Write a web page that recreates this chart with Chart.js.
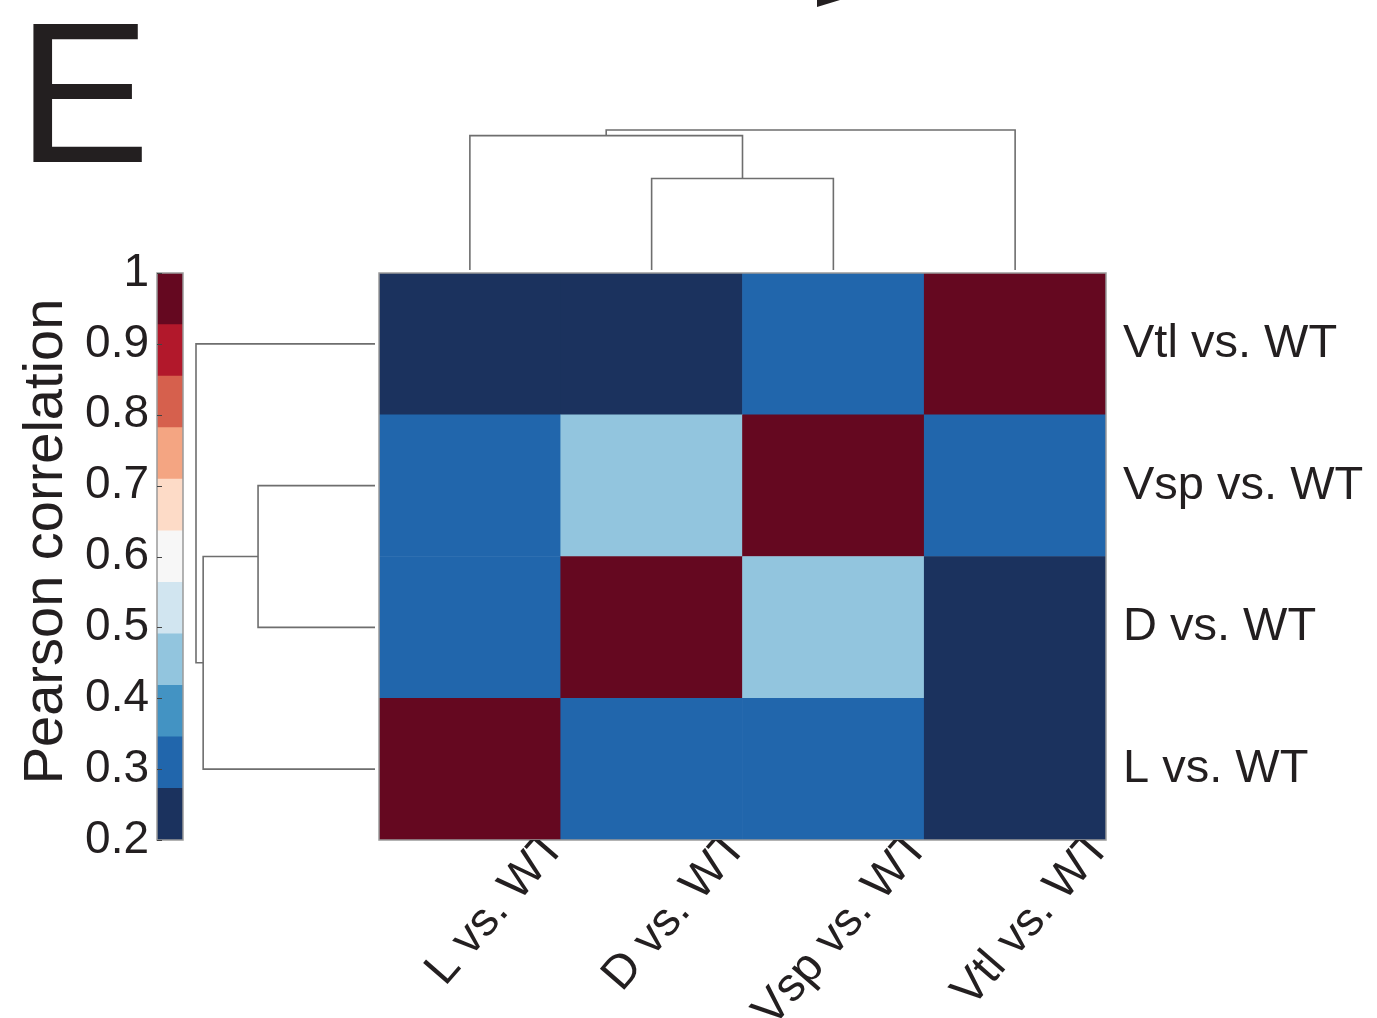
<!DOCTYPE html>
<html>
<head>
<meta charset="utf-8">
<script src="https://cdn.jsdelivr.net/npm/chart.js@4.4.1/dist/chart.umd.min.js"></script>
<style>
  html, body { margin: 0; padding: 0; background: #ffffff; }
  #wrap { position: relative; width: 1377px; height: 1018px; overflow: hidden; background: #ffffff; }
  canvas.layer { position: absolute; left: 0; top: 0; }
  #panel {
    position: absolute; left: 17px; top: -7px;
    font-family: 'Liberation Sans', Arial, sans-serif;
    font-size: 200px; line-height: 1; color: #231f20;
  }
  svg.deco { position: absolute; left: 0; top: 0; }
</style>
</head>
<body>
<div id="wrap">
  <svg class="deco" width="1377" height="1018"><polygon points="817,0 840,0 817,7" fill="#231f20"/></svg>
  <div id="panel">E</div>
  <canvas id="colorbar" class="layer" width="1377" height="1018"></canvas>
  <canvas id="dendroTop" class="layer" width="1377" height="1018"></canvas>
  <canvas id="dendroLeft" class="layer" width="1377" height="1018"></canvas>
  <canvas id="heat" class="layer" width="1377" height="1018"></canvas>
</div>
<script>
// Samples, in the order used for both heatmap axes (bottom-to-top rows, left-to-right columns)
const samples = ['L vs. WT', 'D vs. WT', 'Vsp vs. WT', 'Vtl vs. WT'];

// Pairwise Pearson correlations, one row per sample (columns follow `samples`)
const corrL   = [1.00, 0.31, 0.31, 0.23];
const corrD   = [0.31, 1.00, 0.45, 0.23];
const corrVsp = [0.31, 0.45, 1.00, 0.31];
const corrVtl = [0.23, 0.23, 0.31, 1.00];

// Hierarchical clustering: merge k joins node linkA[k] with node linkB[k] at linkHeight[k]
// (nodes 0-3 are the samples, node 4+k is the cluster made by merge k)
const linkA = [1, 0, 3];
const linkB = [2, 4, 5];
const linkHeight = [0.49, 0.72, 0.75];

// Colour scale: 11 bands from 0.2 to 1 (RdBu, blue = low)
const scaleMin = 0.2;
const scaleMax = 1.0;
const bandColors = ['#1b325e', '#2166ac', '#4393c3', '#92c5de', '#d1e5f0', '#f7f7f7',
                    '#fddbc7', '#f4a582', '#d6604d', '#b2182b', '#650820'];
const colorbarTicks = [0.2, 0.3, 0.4, 0.5, 0.6, 0.7, 0.8, 0.9, 1.0];
const colorbarTickLabels = ['0.2', '0.3', '0.4', '0.5', '0.6', '0.7', '0.8', '0.9', '1'];
const colorbarTitle = 'Pearson correlation';

const FONT = "'Liberation Sans', Arial, Helvetica, sans-serif";
const INK = '#231f20';
const LINE = '#6e6e6e';

const corrRows = [corrL, corrD, corrVsp, corrVtl];
const bandWidth = (scaleMax - scaleMin) / bandColors.length;
function colorFor(v) {
  const i = Math.floor((v - scaleMin) / bandWidth + 1e-9);
  return bandColors[Math.max(0, Math.min(bandColors.length - 1, i))];
}

const frame = (color, width) => ({
  id: 'frame',
  afterDatasetsDraw(chart) {
    const a = chart.chartArea, ctx = chart.ctx;
    ctx.save();
    ctx.strokeStyle = color; ctx.lineWidth = width;
    ctx.strokeRect(a.left, a.top, a.right - a.left, a.bottom - a.top);
    ctx.restore();
  }
});

const common = {
  responsive: false,
  animation: false,
  events: [],
  plugins: { legend: { display: false }, tooltip: { enabled: false } }
};

// ---- heatmap: one floating bar per cell, rows stacked on a linear y axis
new Chart(document.getElementById('heat'), {
  type: 'bar',
  data: {
    labels: samples,
    datasets: corrRows.map((row, r) => ({
      label: samples[r],
      data: samples.map(() => [r, r + 1]),
      backgroundColor: row.map(colorFor),
      borderWidth: 0,
      grouped: false,
      barPercentage: 1,
      categoryPercentage: 1
    }))
  },
  options: {
    ...common,
    layout: { padding: { left: 379, top: 273, right: 0, bottom: 0 } },
    scales: {
      x: {
        type: 'category',
        grid: { display: false, drawTicks: false },
        border: { display: false },
        ticks: {
          z: 1,
          autoSkip: false, minRotation: 49, maxRotation: 49,
          labelOffset: 87, padding: -20,
          color: INK, font: { family: FONT, size: 47 }
        },
        afterFit(s) { s.height = 178; }
      },
      y: {
        type: 'linear', position: 'right', min: 0, max: samples.length,
        grid: { display: false, drawTicks: false },
        border: { display: false },
        afterBuildTicks(s) { s.ticks = samples.map((_, i) => ({ value: i + 0.5 })); },
        ticks: {
          callback: (v, i) => samples[i],
          padding: 17, color: INK, font: { family: FONT, size: 47 }
        },
        afterFit(s) { s.width = 271; }
      }
    }
  },
  plugins: [frame('#9a9a9a', 1.5)]
});

// ---- colour bar
const bandEdges = bandColors.map((_, i) => scaleMin + i * bandWidth);
new Chart(document.getElementById('colorbar'), {
  type: 'bar',
  data: {
    labels: [''],
    datasets: bandColors.map((c, i) => ({
      data: [[bandEdges[i], bandEdges[i] + bandWidth]],
      backgroundColor: c, borderWidth: 0,
      grouped: false, barPercentage: 1, categoryPercentage: 1
    }))
  },
  options: {
    ...common,
    layout: { padding: { left: 0, top: 273, right: 1194, bottom: 178 } },
    scales: {
      x: { display: false },
      y: {
        type: 'linear', position: 'left', min: scaleMin, max: scaleMax,
        grid: { display: false, drawTicks: false },
        border: { display: false },
        afterBuildTicks(s) { s.ticks = colorbarTicks.map(v => ({ value: v })); },
        ticks: {
          callback: (v, i) => colorbarTickLabels[i],
          padding: 8, color: INK, font: { family: FONT, size: 46 }
        },
        afterFit(s) { s.width = 157; }
      }
    }
  },
  plugins: [
    frame('#9a9a9a', 1.5),
    {
      id: 'innerTicks',
      afterDatasetsDraw(chart) {
        const y = chart.scales.y, a = chart.chartArea, ctx = chart.ctx;
        ctx.save();
        ctx.strokeStyle = '#444'; ctx.lineWidth = 1;
        colorbarTicks.forEach(v => {
          const py = Math.round(y.getPixelForValue(v)) + 0.5;
          ctx.beginPath(); ctx.moveTo(a.left, py); ctx.lineTo(a.left + 5, py); ctx.stroke();
        });
        ctx.restore();
      }
    },
    {
      // rotated axis title, centred a little above the middle of the bar
      id: 'barTitle',
      afterDraw(chart) {
        const a = chart.chartArea, ctx = chart.ctx;
        ctx.save();
        ctx.translate(47, (a.top + a.bottom) / 2 - 15);
        ctx.rotate(-Math.PI / 2);
        ctx.fillStyle = INK;
        ctx.font = `56px ${FONT}`;
        ctx.textAlign = 'center';
        ctx.textBaseline = 'middle';
        ctx.fillText(colorbarTitle, 0, 0);
        ctx.restore();
      }
    }
  ]
});

// ---- dendrograms: each merge drawn as a bracket between its two children
function brackets(swap) {
  const pos = samples.map((_, i) => i + 0.5);
  const ht = samples.map(() => 0);
  const out = [];
  linkA.forEach((a, k) => {
    const b = linkB[k], h = linkHeight[k];
    const pts = [[pos[a], ht[a]], [pos[a], h], [pos[b], h], [pos[b], ht[b]]];
    out.push(pts.map(([p, q]) => swap ? { x: q, y: p } : { x: p, y: q }));
    pos.push((pos[a] + pos[b]) / 2);
    ht.push(h);
  });
  return out;
}
const maxH = Math.max(...linkHeight);
const dendroDataset = pts => ({
  data: pts, showLine: true, borderColor: LINE, borderWidth: 1.6,
  pointRadius: 0, clip: false, tension: 0
});

new Chart(document.getElementById('dendroTop'), {
  type: 'scatter',
  data: { datasets: brackets(false).map(dendroDataset) },
  options: {
    ...common,
    layout: { padding: { left: 379, right: 271, top: 130, bottom: 748 } },
    scales: {
      x: { type: 'linear', display: false, min: 0, max: samples.length },
      y: { type: 'linear', display: false, min: 0, max: maxH }
    }
  }
});

new Chart(document.getElementById('dendroLeft'), {
  type: 'scatter',
  data: { datasets: brackets(true).map(dendroDataset) },
  options: {
    ...common,
    layout: { padding: { left: 196, right: 1002, top: 273, bottom: 178 } },
    scales: {
      x: { type: 'linear', display: false, min: 0, max: maxH, reverse: true },
      y: { type: 'linear', display: false, min: 0, max: samples.length }
    }
  }
});
</script>
</body>
</html>
